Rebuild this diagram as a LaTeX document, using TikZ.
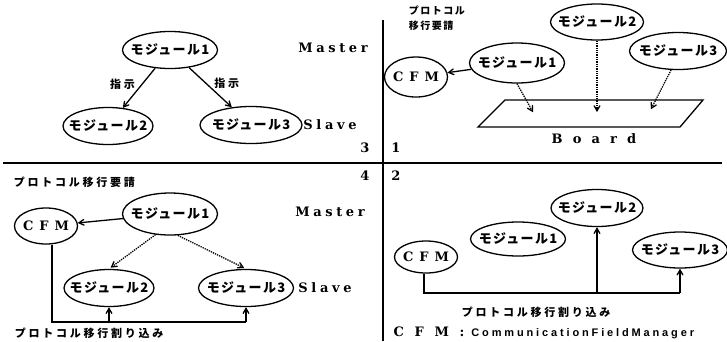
\documentclass[tikz,border=0pt]{standalone}
\usepackage{fontspec}
\setmainfont{DejaVu Serif}
\newfontfamily\jp{Noto Sans CJK JP}
\newfontfamily\dotsans{Liberation Sans}
\usepackage{tikz}
\usetikzlibrary{arrows,shapes.geometric}

\begin{document}
\begin{tikzpicture}[->, >=angle 60, line width=1.3pt, x=1pt, y=-1pt]
\tikzset{
  mod/.style={ellipse, draw, minimum width=95, minimum height=37,
    inner xsep=-25pt, inner ysep=0pt,
    font=\jp\bfseries\fontsize{13}{13}\selectfont\addfontfeature{LetterSpace=10}},
  cfm/.style={mod, minimum width=63, minimum height=38,
    font=\bfseries\fontsize{13}{13}\selectfont\addfontfeature{LetterSpace=46}},
  role/.style={font=\bfseries\fontsize{13}{13}\selectfont\addfontfeature{LetterSpace=28}},
  wide/.style={font=\bfseries\fontsize{13}{13}\selectfont\addfontfeature{LetterSpace=78}},
  jlab/.style={font=\jp\bfseries\fontsize{11}{11}\selectfont\addfontfeature{LetterSpace=25}},
  jsmall/.style={align=left, font=\jp\bfseries\fontsize{10}{15}\selectfont\addfontfeature{LetterSpace=15}},
  num/.style={font=\bfseries\fontsize{13}{13}\selectfont},
  req/.style={->, densely dotted, shorten >=2pt},
  bus/.style={-}
}
\useasboundingbox (0,0) rectangle (727,341);

% frame
\draw[-] (383,20) -- (383,341);
\draw[-] (3,163) -- (722,163);
\node[num] (n3) at (365,148) {3};
\node[num] (n4) at (365,176) {4};
\node[num] (n1) at (396,148) {1};
\node[num] (n2) at (396,176) {2};

% 3: master / slave
\node[mod] (q3m1) at (170,50) {モジュール1};
\node[mod, minimum width=90] (q3m2) at (108,126) {モジュール2};
\node[mod, minimum width=102] (q3m3) at (251,125) {モジュール3};
\node[role] (q3ma) at (333,48) {Master};
\node[role] (q3sl) at (330,125) {Slave};
\path (q3m1) edge node[jlab, above left, yshift=-5pt] {指示} (q3m2);
\path (q3m1) edge node[jlab, above right, yshift=-5pt] {指示} (q3m3);

% 1: board
\node[jsmall, anchor=west] (q1req) at (405,18) {プロトコル\\移行要請};
\node[cfm, minimum height=40] (q1cfm) at (416,77) {CFM};
\node[mod, minimum height=40] (q1m1) at (517,63) {モジュール1};
\node[mod, minimum width=93, minimum height=36] (q1m2) at (597,22) {モジュール2};
\node[mod, minimum width=97] (q1m3) at (678,51) {モジュール3};
\coordinate (b1) at (505,100);
\coordinate (b2) at (703,100);
\coordinate (b3) at (680,127);
\coordinate (b4) at (478,127);
\draw[-] (b1) -- (b2) -- (b3) -- (b4) -- cycle;
\coordinate (p1) at (534,114);
\coordinate (p2) at (597,114);
\coordinate (p3) at (650,111);
\node[wide] (q1bd) at (594,139) {Board};
\path (q1m1) edge (q1cfm);
\path (q1m1.south) edge[req] (p1);
\path (q1m2.south) edge[req] (p2);
\path (q1m3.250) edge[req] (p3);

% 4: master / slave with CFM
\node[jlab, anchor=west] (q4req) at (10,182) {プロトコル移行要請};
\node[mod, minimum height=42] (q4m1) at (170,214) {モジュール1};
\node[cfm, minimum height=36] (q4cfm) at (46,226) {CFM};
\node[role] (q4ma) at (330,212) {Master};
\node[mod, minimum width=90] (q4m2) at (109,288) {モジュール2};
\node[mod] (q4m3) at (246,288) {モジュール3};
\node[role] (q4sl) at (325,288) {Slave};
\path (q4m1) edge (q4cfm);
\path (q4m1.235) edge[req] (q4m2.north);
\path (q4m1.290) edge[req] (q4m3.north);
\coordinate (q4b) at (52,322);
\draw[bus] (q4cfm.south -| q4b) -- (q4b) -- (q4b -| q4m3.south);
\draw (q4b -| q4m2.south) -- (q4m2.south);
\draw (q4b -| q4m3.south) -- (q4m3.south);
\node[jlab] (q4irq) at (89,333) {プロトコル移行割り込み};

% 2: interrupt from CFM
\node[cfm, minimum height=32] (q2cfm) at (426,257) {CFM};
\node[mod, minimum height=34] (q2m1) at (518,239) {モジュール1};
\node[mod, minimum width=92] (q2m2) at (597,208) {モジュール2};
\node[mod, minimum height=36] (q2m3) at (680,250) {モジュール3};
\coordinate (q2b) at (424,293);
\draw[bus] (q2cfm.south -| q2b) -- (q2b) -- (q2b -| q2m3.south);
\draw (q2b -| q2m2.south) -- (q2m2.south);
\draw (q2b -| q2m3.south) -- (q2m3.south);
\node[jlab] (q2irq) at (536,312) {プロトコル移行割り込み};
\node[anchor=west, inner sep=0pt] (q2note) at (393,333)
  {{\bfseries\fontsize{13}{13}\selectfont\addfontfeature{LetterSpace=82}CFM:}\hspace{7pt}%
   {\dotsans\bfseries\fontsize{11}{11}\selectfont\addfontfeature{LetterSpace=26}CommunicationFieldManager}};
\end{tikzpicture}
\end{document}
